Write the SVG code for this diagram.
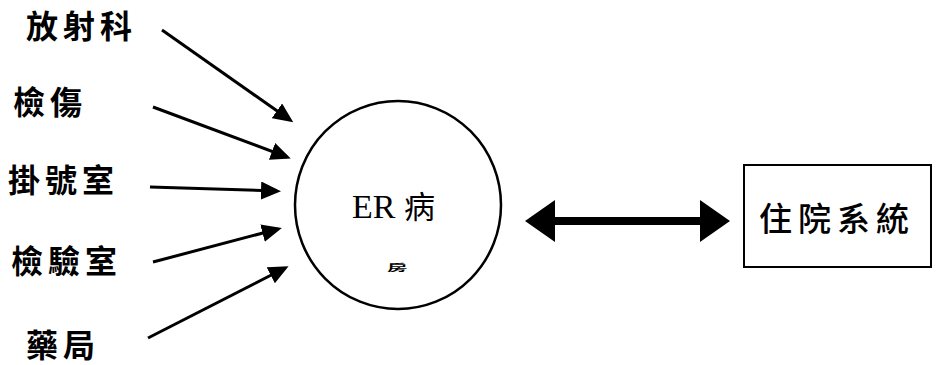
<svg xmlns="http://www.w3.org/2000/svg" width="936" height="365" viewBox="0 0 936 365">
<style>
.lbl{font-family:"Noto Sans CJK TC","Noto Sans CJK SC",sans-serif;font-size:32px;font-weight:700;letter-spacing:5px;fill:#000}
.box-t{font-family:"Noto Sans CJK TC","Noto Sans CJK SC",sans-serif;font-size:33px;font-weight:500;letter-spacing:6px;fill:#000}
.er{font-family:"Liberation Serif","Noto Sans CJK TC",serif;font-size:34px;fill:#000}
.ln{stroke:#000;stroke-width:3;fill:none}
</style>
<defs>
<marker id="ah" markerUnits="userSpaceOnUse" markerWidth="20" markerHeight="18" viewBox="0 0 20 18" refX="16" refY="9" orient="auto">
<path d="M0,0 L20,9 L0,18 z" fill="#000"/>
</marker>
<marker id="dh" markerUnits="userSpaceOnUse" markerWidth="30" markerHeight="42" viewBox="0 0 30 42" refX="15" refY="21" orient="auto-start-reverse">
<path d="M0,0 L30,21 L0,42 z" fill="#000"/>
</marker>
</defs>
<g id="n-radiology"><text class="lbl" x="26" y="38">放射科</text></g>
<g id="n-triage"><text class="lbl" x="13" y="114">檢傷</text></g>
<g id="n-registration"><text class="lbl" x="8" y="192">掛號室</text></g>
<g id="n-lab"><text class="lbl" x="11" y="273">檢驗室</text></g>
<g id="n-pharmacy"><text class="lbl" x="26" y="357">藥局</text></g>
<g id="n-er">
<ellipse cx="398" cy="205" rx="103" ry="104" fill="none" stroke="#000" stroke-width="2.5"/>
<text class="er" x="352" y="218">ER <tspan font-family="Noto Sans CJK TC,sans-serif" font-size="31">病</tspan></text>
<text x="0" y="0" font-family="Noto Sans CJK TC,sans-serif" font-size="12" font-weight="700" transform="translate(387 271) scale(1.7 0.8)">房</text>
</g>
<g id="n-inpatient">
<rect x="744" y="165" width="187" height="102" fill="none" stroke="#000" stroke-width="2"/>
<text class="box-t" x="759" y="231">住院系統</text>
</g>
<g id="connectors">
<line class="ln" x1="162" y1="30" x2="290" y2="120" marker-end="url(#ah)"/>
<line class="ln" x1="153" y1="107" x2="287" y2="157" marker-end="url(#ah)"/>
<line class="ln" x1="150" y1="187" x2="277" y2="191" marker-end="url(#ah)"/>
<line class="ln" x1="153" y1="262" x2="278" y2="229" marker-end="url(#ah)"/>
<line class="ln" x1="148" y1="338" x2="285" y2="268" marker-end="url(#ah)"/>
<line x1="540" y1="221" x2="715" y2="221" stroke="#000" stroke-width="8" marker-start="url(#dh)" marker-end="url(#dh)"/>
</g>
</svg>
